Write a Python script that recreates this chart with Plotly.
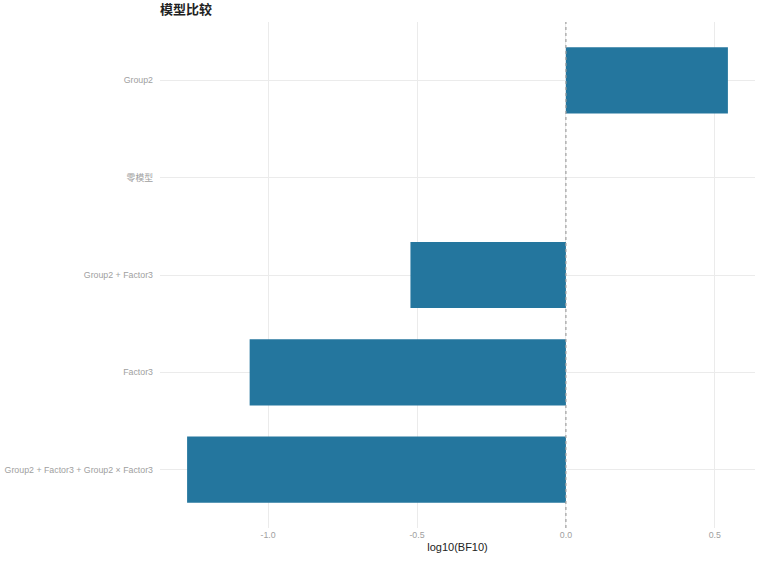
import plotly.graph_objects as go

# 模型比较：log10 贝叶斯因子
models = [
    "Group2 + Factor3 + Group2 × Factor3",
    "Factor3",
    "Group2 + Factor3",
    "零模型",
    "Group2",
]
log_bf10 = [-1.272, -1.062, -0.522, 0.0, 0.544]

BAR_COLOR = "#24769E"
GRID = "#EBEBEB"

fig = go.Figure(go.Bar(
    x=log_bf10,
    y=models,
    orientation="h",
    width=0.68,
    marker={"color": BAR_COLOR, "line": {"width": 0}},
    hovertemplate="%{y}<br>log10(BF10): %{x:.3f}<extra></extra>",
))

fig.add_vline(x=0, line_dash="3px,3px", line_color="#A0A0A0", line_width=1.2)

fig.update_layout(
    width=761,
    height=561,
    plot_bgcolor="white",
    paper_bgcolor="white",
    margin={"l": 160, "r": 6, "t": 22, "b": 33},
    showlegend=False,
    title={
        "text": "<b>模型比较</b>",
        "x": 160 / 761,
        "xanchor": "left",
        "y": 1 - 9.5 / 561,
        "yanchor": "middle",
        "font": {"family": "Noto Sans CJK SC", "size": 13, "color": "#222222"},
    },
    font={"family": "Liberation Sans, Noto Sans CJK SC"},
)
fig.update_xaxes(
    range=[-1.363, 0.635],
    tickvals=[-1.0, -0.5, 0.0, 0.5],
    ticktext=["-1.0", "-0.5", "0.0", "0.5"],
    showgrid=True,
    gridcolor=GRID,
    gridwidth=1,
    zeroline=False,
    showline=False,
    ticks="",
    tickfont={"size": 8.8, "color": "#A0A0A0"},
    title={"text": "log10(BF10)", "font": {"size": 11, "color": "#222222"}, "standoff": 4},
)
fig.update_yaxes(
    range=[-0.6, 4.6],
    categoryorder="array",
    categoryarray=models,
    showgrid=True,
    gridcolor=GRID,
    gridwidth=1,
    zeroline=False,
    showline=False,
    ticks="",
    ticklabelstandoff=6,
    tickfont={"size": 8.8, "color": "#A0A0A0"},
)

# 去掉页面默认边距，让图从左上角开始；不显示工具栏
fig.write_html(
    "out.html",
    config={"displayModeBar": False},
    post_script="document.body.style.margin='0';",
)
